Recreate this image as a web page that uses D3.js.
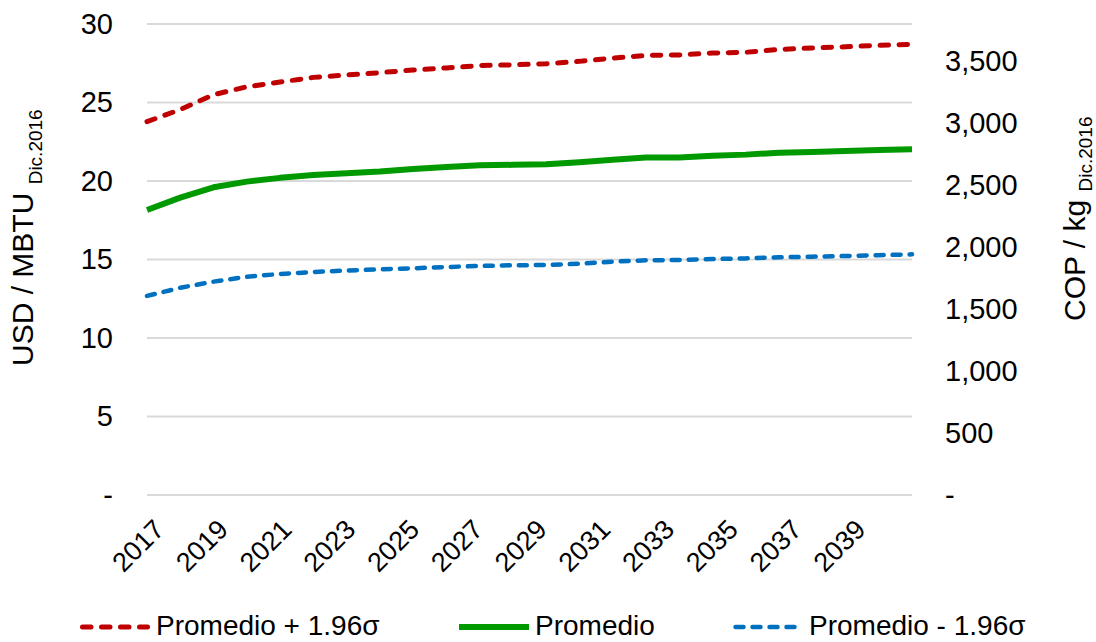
<!DOCTYPE html>
<html>
<head>
<meta charset="utf-8">
<script src="https://cdn.jsdelivr.net/npm/d3@7"></script>
<style>
  html, body { margin: 0; padding: 0; background: #fff; }
  svg { display: block; font-family: "Liberation Sans", Arial, sans-serif; }
</style>
</head>
<body>
<svg id="chart" width="1096" height="642"></svg>
<script>
const years = [2017,2018,2019,2020,2021,2022,2023,2024,2025,2026,2027,2028,2029,2030,2031,2032,2033,2034,2035,2036,2037,2038,2039,2040];
const xLabels = [2017,2019,2021,2023,2025,2027,2029,2031,2033,2035,2037,2039];
const upper = [23.78,24.55,25.5,26.0,26.3,26.6,26.75,26.9,27.07,27.2,27.35,27.4,27.47,27.62,27.83,28.0,28.03,28.15,28.2,28.38,28.47,28.55,28.64,28.7];
const mean  = [18.15,18.94,19.6,19.96,20.2,20.38,20.49,20.6,20.76,20.89,21.0,21.03,21.06,21.2,21.36,21.49,21.5,21.61,21.68,21.8,21.85,21.91,21.97,22.02];
const lower = [12.68,13.2,13.59,13.9,14.08,14.2,14.3,14.37,14.44,14.52,14.59,14.63,14.65,14.73,14.86,14.95,14.97,15.03,15.07,15.14,15.18,15.22,15.27,15.33];
const leftTicks = [0,5,10,15,20,25,30];
const rightTicks = [0,500,1000,1500,2000,2500,3000,3500];
const rightMax = 3800;
const seriesNames = ["Promedio + 1.96\u03c3", "Promedio", "Promedio - 1.96\u03c3"];
const seriesColors = ["#C00000", "#009900", "#0070C0"];

const svg = d3.select("#chart");
// lines sit on tick marks, category labels sit between tick marks
const x = d3.scalePoint().domain(years).range([147, 912]);
const xb = d3.scaleBand().domain(years).range([147, 912]);
const y = d3.scaleLinear().domain([0, 30]).range([495, 24]);
const y2 = d3.scaleLinear().domain([0, rightMax]).range([495, 24]);
const fmt = v => v === 0 ? "-" : d3.format(",")(v);

// gridlines
svg.append("g").selectAll("line").data(leftTicks).join("line")
  .attr("x1", 147).attr("x2", 912)
  .attr("y1", d => y(d)).attr("y2", d => y(d))
  .attr("stroke", "#D9D9D9").attr("stroke-width", 2);

// left axis
const gl = svg.append("g").attr("transform", "translate(147,0)")
  .call(d3.axisLeft(y).tickValues(leftTicks).tickFormat(fmt).tickSize(0).tickPadding(34));
gl.select(".domain").remove();
gl.selectAll("text").attr("font-size", 29).attr("fill", "#000").attr("font-family", "Liberation Sans, Arial, sans-serif");

// right axis
const gr = svg.append("g").attr("transform", "translate(912,0)")
  .call(d3.axisRight(y2).tickValues(rightTicks).tickFormat(fmt).tickSize(0).tickPadding(33));
gr.select(".domain").remove();
gr.selectAll("text").attr("font-size", 29).attr("fill", "#000").attr("font-family", "Liberation Sans, Arial, sans-serif");

// x labels
svg.append("g").selectAll("text").data(xLabels).join("text")
  .attr("transform", d => `translate(${xb(d) + xb.bandwidth() / 2 + 3},531) rotate(-45)`)
  .attr("text-anchor", "end")
  .attr("font-size", 27)
  .text(d => d);

// lines
const line = d3.line().x((d, i) => x(years[i])).y(d => y(d));
const styles = [
  {w: 5, dash: "8.5,10.5", cap: "round"},
  {w: 6, dash: null, cap: "butt"},
  {w: 4.5, dash: "8,9", cap: "round"}
];
[upper, mean, lower].forEach((s, k) => {
  svg.append("path").datum(s)
    .attr("d", line)
    .attr("fill", "none")
    .attr("stroke", seriesColors[k])
    .attr("stroke-width", styles[k].w)
    .attr("stroke-linecap", styles[k].cap)
    .attr("stroke-linejoin", "round")
    .attr("stroke-dasharray", styles[k].dash);
});

// axis titles
const lt = svg.append("text")
  .attr("transform", "translate(33,366) rotate(-90)")
  .attr("font-size", 30);
lt.append("tspan").text("USD / MBTU ");
lt.append("tspan").attr("font-size", 19).attr("dy", 9).text("Dic.2016");

const rt = svg.append("text")
  .attr("transform", "translate(1085,321) rotate(-90)")
  .attr("font-size", 30);
rt.append("tspan").text("COP / kg ");
rt.append("tspan").attr("font-size", 19).attr("dy", 7).text("Dic.2016");

// legend
const legX = [80, 459, 733];
const leg = svg.append("g");
seriesNames.forEach((n, k) => {
  leg.append("line")
    .attr("x1", legX[k] + (styles[k].cap === "round" ? 2.5 : 0))
    .attr("x2", legX[k] + 70 - (styles[k].cap === "round" ? 2.5 : 0))
    .attr("y1", 627).attr("y2", 627)
    .attr("stroke", seriesColors[k])
    .attr("stroke-width", styles[k].w)
    .attr("stroke-linecap", styles[k].cap)
    .attr("stroke-dasharray", styles[k].dash);
  leg.append("text")
    .attr("x", legX[k] + 76).attr("y", 635)
    .attr("font-size", 28)
    .text(n);
});
</script>
</body>
</html>
